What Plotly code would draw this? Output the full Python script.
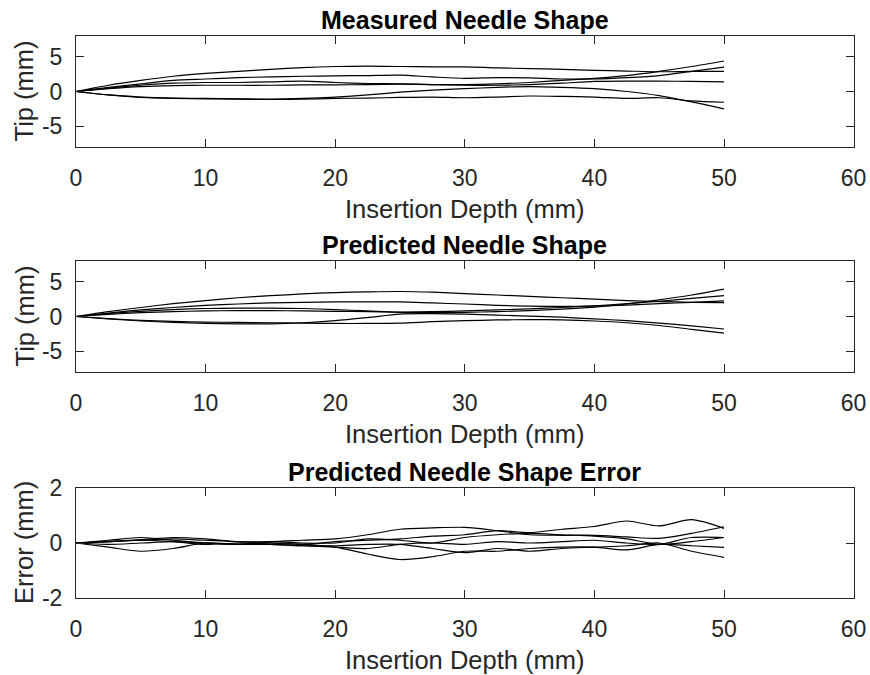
import plotly.graph_objects as go

depth = [0, 2.5, 5, 7.5, 10, 12.5, 15, 17.5, 20, 22.5, 25, 27.5, 30, 32.5, 35,
         37.5, 40, 42.5, 45, 47.5, 50]

measured = [
    [0, 0.9, 1.6, 2.2, 2.6, 2.9, 3.2, 3.45, 3.6, 3.65, 3.6, 3.55, 3.55, 3.4, 3.3, 3.2, 3.05, 2.95, 2.85, 2.9, 2.9],
    [0, 0.6, 1.1, 1.6, 1.8, 2.0, 2.1, 2.2, 2.25, 2.3, 2.35, 2.1, 1.9, 2.0, 1.95, 1.8, 1.8, 2.0, 2.3, 2.9, 3.5],
    [0, 0.5, 0.9, 1.2, 1.3, 1.3, 1.4, 1.5, 1.3, 1.15, 1.1, 1.0, 0.9, 0.9, 1.0, 1.2, 1.45, 1.5, 1.5, 1.45, 1.4],
    [0, 0.4, 0.7, 0.85, 0.9, 0.9, 0.9, 0.95, 0.95, 1.0, 1.05, 1.0, 1.0, 1.1, 1.3, 1.6, 1.9, 2.3, 2.9, 3.6, 4.4],
    [0, -0.5, -0.8, -0.95, -1.0, -1.05, -1.1, -1.0, -0.8, -0.5, -0.1, 0.2, 0.4, 0.6, 0.7, 0.6, 0.4, 0.0, -0.6, -1.5, -2.5],
    [0, -0.5, -0.85, -1.0, -1.05, -1.1, -1.15, -1.1, -1.0, -0.95, -0.85, -0.8, -0.9, -0.8, -0.65, -0.7, -0.8, -1.0, -0.9, -1.35, -1.55],
]

predicted = [
    [0, 0.7, 1.3, 1.85, 2.3, 2.7, 3.0, 3.25, 3.45, 3.55, 3.6, 3.5, 3.3, 3.1, 2.9, 2.7, 2.5, 2.3, 2.15, 2.05, 2.0],
    [0, 0.5, 0.95, 1.3, 1.6, 1.8, 1.95, 2.05, 2.1, 2.12, 2.1, 1.95, 1.8, 1.6, 1.5, 1.45, 1.5, 1.65, 1.85, 2.05, 2.25],
    [0, 0.4, 0.75, 1.0, 1.15, 1.2, 1.2, 1.15, 1.0, 0.8, 0.6, 0.55, 0.6, 0.7, 0.85, 1.05, 1.35, 1.8, 2.4, 3.1, 3.95],
    [0, 0.3, 0.55, 0.7, 0.8, 0.85, 0.85, 0.8, 0.75, 0.7, 0.65, 0.7, 0.8, 0.95, 1.1, 1.3, 1.55, 1.85, 2.2, 2.6, 3.0],
    [0, -0.35, -0.65, -0.85, -1.0, -1.05, -1.05, -0.9, -0.6, -0.15, 0.35, 0.4, 0.35, 0.2, 0.05, -0.1, -0.35, -0.6, -0.95, -1.35, -1.8],
    [0, -0.3, -0.55, -0.7, -0.8, -0.85, -0.9, -0.95, -1.0, -1.0, -0.95, -0.75, -0.6, -0.5, -0.45, -0.5, -0.65, -0.9, -1.3, -1.85, -2.4],
]

error = [
    [0, 0.05, 0.1, 0.15, 0.1, 0.05, 0.05, 0.1, 0.15, 0.3, 0.5, 0.55, 0.57, 0.45, 0.3, 0.28, 0.28, 0.22, 0.17, 0.35, 0.59],
    [0, 0.05, 0.12, 0.2, 0.15, 0.05, 0.0, -0.05, 0.05, 0.1, 0.15, 0.25, 0.3, 0.45, 0.38, 0.5, 0.6, 0.8, 0.62, 0.85, 0.53],
    [0, 0.1, 0.2, 0.1, 0.0, -0.05, 0.05, 0.0, 0.0, 0.15, 0.1, 0.0, 0.2, 0.3, 0.35, 0.3, 0.25, 0.15, -0.05, 0.05, 0.2],
    [0, -0.05, 0.0, 0.05, 0.0, -0.05, 0.0, -0.05, -0.15, -0.4, -0.6, -0.5, -0.3, -0.3, -0.2, -0.15, -0.15, -0.25, -0.05, -0.1, -0.16],
    [0, 0.05, 0.1, 0.05, -0.05, 0.0, -0.05, -0.1, -0.1, -0.05, -0.05, -0.2, -0.35, -0.2, -0.3, -0.2, -0.15, -0.1, 0.0, -0.3, -0.52],
    [0, -0.15, -0.3, -0.2, 0.0, -0.05, -0.05, -0.1, -0.15, -0.2, -0.05, 0.0, -0.05, 0.05, 0.0, 0.05, 0.1, 0.0, -0.05, 0.2, 0.2],
]

titles = ["Measured Needle Shape", "Predicted Needle Shape", "Predicted Needle Shape Error"]
ylabels = ["Tip (mm)", "Tip (mm)", "Error (mm)"]
xlabel = "Insertion Depth (mm)"
xticks = [0, 10, 20, 30, 40, 50, 60]
xticklabels = ["0", "10", "20", "30", "40", "50", "60"]
yticks_shape = [-5, 0, 5]
yticklabels_shape = ["-5", "0", "5"]
yticks_err = [-2, 0, 2]
yticklabels_err = ["-2", "0", "2"]

W, H = 870, 675
FONT = "Liberation Sans, Arial, Helvetica, sans-serif"
AX = "#262626"

# pixel boxes (top, bottom) of each axes
boxes = [(36, 147), (261, 372), (488, 598)]
xl, xr = 76, 853.6


def px(xw):
    return xw / W


def py(yw):
    return 1 - yw / H


fig = go.Figure()
datasets = [measured, predicted, error]
for i, ds in enumerate(datasets):
    for s in ds:
        fig.add_trace(go.Scatter(
            x=depth, y=s, mode="lines",
            line=dict(color="black", width=1.2, shape="spline", smoothing=0.8),
            xaxis="x" if i == 0 else f"x{i+1}", yaxis="y" if i == 0 else f"y{i+1}",
            showlegend=False, hoverinfo="skip"))

layout = dict(width=W, height=H, margin=dict(l=0, r=0, t=0, b=0, pad=0, autoexpand=False),
              paper_bgcolor="white", plot_bgcolor="white",
              font=dict(family=FONT, color=AX, size=23))
annotations = []
for i in range(3):
    top, bot = boxes[i]
    sfx = "" if i == 0 else str(i + 1)
    yr = [-8, 8] if i < 2 else [-2, 2]
    yt = yticks_shape if i < 2 else yticks_err
    ytl = yticklabels_shape if i < 2 else yticklabels_err
    layout["xaxis" + sfx] = dict(
        domain=[px(xl), px(xr)], range=[0, 60], tickvals=xticks, ticktext=xticklabels,
        automargin=False,
        anchor="y" + sfx, showline=True, linecolor=AX, linewidth=1, mirror="allticks",
        ticks="inside", ticklen=8, tickcolor=AX, tickwidth=1, showgrid=False, zeroline=False,
        tickfont=dict(size=23, family=FONT, color=AX), ticklabelstandoff=10)
    layout["yaxis" + sfx] = dict(
        domain=[py(bot), py(top)], range=yr, tickvals=yt, ticktext=ytl, automargin=False,
        anchor="x" + sfx, showline=True, linecolor=AX, linewidth=1, mirror="allticks",
        ticks="inside", ticklen=8, tickcolor=AX, tickwidth=1, showgrid=False, zeroline=False,
        tickfont=dict(size=23, family=FONT, color=AX), ticklabelstandoff=8)
    cx = px((xl + xr) / 2)
    annotations.append(dict(text="<b>" + titles[i] + "</b>", x=cx, y=py(top - 16),
                            xref="paper", yref="paper", xanchor="center", yanchor="middle",
                            showarrow=False, font=dict(size=25, family=FONT, color="black")))
    annotations.append(dict(text=xlabel, x=cx, y=py(bot + 62),
                            xref="paper", yref="paper", xanchor="center", yanchor="middle",
                            showarrow=False, font=dict(size=25.5, family=FONT, color=AX)))
    annotations.append(dict(text=ylabels[i], x=px(24), y=py((top + bot) / 2),
                            xref="paper", yref="paper", xanchor="center", yanchor="middle",
                            textangle=-90, showarrow=False,
                            font=dict(size=25.5, family=FONT, color=AX)))
layout["annotations"] = annotations
fig.update_layout(**layout)
fig.write_html("out.html")
